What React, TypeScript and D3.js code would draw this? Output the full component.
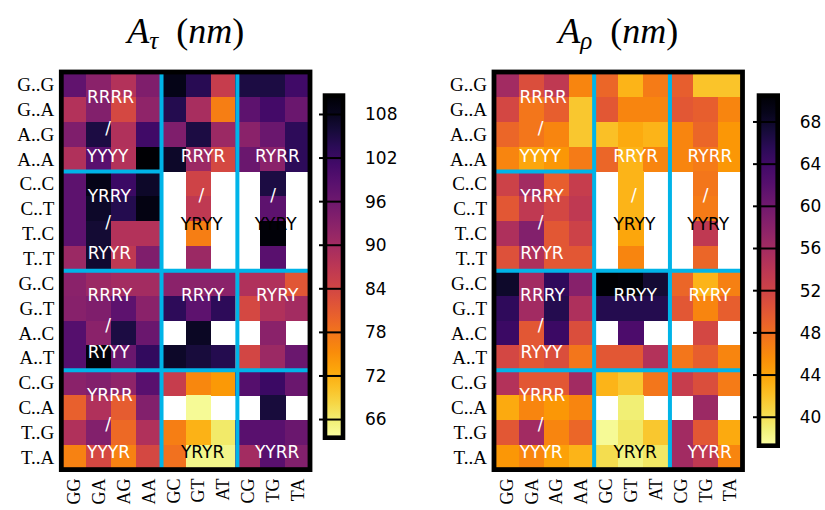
import * as d3 from "d3";

const rowLabels = ["G..G", "G..A", "A..G", "A..A", "C..C", "C..T", "T..C", "T..T",
  "G..C", "G..T", "A..C", "A..T", "C..G", "C..A", "T..G", "T..A"];
const colLabels = ["GG", "GA", "AG", "AA", "GC", "GT", "AT", "CG", "TG", "TA"];

const N = null;

// A_tau (nm), rows x columns, null = no value (white)
const tauValues: (number | null)[][] = [
  [97.6, 92.8, 88.0, 94.2, 108.6, 103.8, 85.6, 105.2, 105.2, 101.4],
  [88.0, 93.7, 83.6, 92.3, 104.3, 89.4, 76.9, 98.0, 100.9, 96.6],
  [94.2, 105.2, 88.4, 101.4, 94.2, 105.2, 90.8, 92.8, 96.6, 103.3],
  [88.4, 98.5, 88.0, 110.5, 107.2, 90.8, 83.6, 96.6, 92.8, 103.3],
  [98.0, 108.6, 101.9, 107.2, N, 84.6, N, N, 105.2, N],
  [98.0, 107.2, 104.3, 109.1, N, 86.5, N, N, 98.0, N],
  [98.0, 106.2, 88.0, 88.0, N, 76.9, N, N, 110.0, N],
  [90.8, 106.7, 86.5, 94.2, N, 90.8, N, N, 98.5, N],
  [92.8, 90.8, 89.9, 89.9, 92.8, 92.8, 92.8, 88.4, 88.4, 81.7],
  [93.2, 94.2, 98.0, 92.8, 103.3, 98.0, 103.3, 83.6, 88.4, 89.9],
  [99.0, 92.8, 105.2, 96.6, N, 107.6, N, N, 92.8, N],
  [99.0, 109.6, 96.6, 102.8, 107.2, 105.7, 104.3, 84.1, 90.8, 96.6],
  [92.8, 93.7, 92.3, 98.5, 85.6, 76.0, 74.0, 99.0, 101.9, 96.6],
  [80.3, 88.4, 80.8, 93.7, N, 64.4, N, N, 105.7, N],
  [88.4, 93.7, 79.3, 88.4, 76.9, 71.6, 66.4, 98.5, 98.5, 96.6],
  [76.4, 83.6, 76.4, 83.6, 78.4, 64.9, 64.9, 89.9, 98.5, 93.7],
];

// A_rho (nm)
const rhoValues: (number | null)[][] = [
  [56.0, 50.9, 53.6, 46.2, 48.6, 42.9, 46.9, 49.3, 41.9, 41.9],
  [51.6, 47.3, 49.3, 41.6, 49.9, 46.2, 46.2, 49.9, 49.3, 46.2],
  [48.6, 47.3, 46.2, 41.6, 42.2, 43.6, 42.9, 46.2, 48.6, 44.9],
  [46.2, 43.9, 44.9, 46.9, 48.6, 42.9, 46.2, 46.2, 46.9, 44.9],
  [52.3, 56.0, 49.3, 52.9, N, 42.9, N, N, 47.3, N],
  [49.9, 53.6, 51.6, 53.6, N, 42.9, N, N, 46.9, N],
  [55.0, 58.6, 49.9, 52.3, N, 43.9, N, N, 53.6, N],
  [50.6, 55.0, 49.9, 49.9, N, 46.2, N, N, 48.6, N],
  [68.0, 56.0, 65.3, 58.3, 70.7, 70.0, 67.4, 48.6, 42.9, 46.6],
  [65.3, 56.0, 66.0, 55.0, 66.0, 66.0, 66.0, 49.9, 46.2, 49.3],
  [64.3, 49.9, 64.3, 50.9, N, 63.0, N, N, 51.6, N],
  [51.6, 49.9, 50.9, 47.3, 49.9, 49.9, 54.6, 47.3, 49.3, 46.2],
  [54.6, 49.9, 49.9, 56.0, 42.9, 41.6, 47.3, 52.9, 50.9, 46.9],
  [43.6, 46.2, 44.9, 46.2, N, 38.9, N, N, 56.6, N],
  [49.9, 56.0, 46.2, 48.6, 37.9, 39.5, 41.6, 56.0, 49.9, 43.6],
  [44.9, 46.2, 44.2, 42.9, 40.2, 38.5, 39.5, 56.0, 53.6, 46.2],
];

const tauTicks = [66, 72, 78, 84, 90, 96, 102, 108];
const rhoTicks = [40, 44, 48, 52, 56, 60, 64, 68];
const tauRange: [number, number] = [63.5, 110.6];
const rhoRange: [number, number] = [37.3, 70.5];

// text, column position, row position, colour (grid units)
const blockLabels: [string, number, number, string][] = [
  ["RRRR", 1.98, 0.99, "white"],
  ["/", 1.88, 2.23, "white"],
  ["YYYY", 1.86, 3.36, "white"],
  ["RRYR", 5.7, 3.36, "white"],
  ["RYRR", 8.69, 3.36, "white"],
  ["YRRY", 1.93, 4.98, "white"],
  ["/", 1.88, 6.04, "white"],
  ["RYYR", 1.93, 7.26, "white"],
  ["/", 5.63, 4.95, "white"],
  ["YRYY", 5.65, 6.12, "black"],
  ["/", 8.52, 4.95, "white"],
  ["YYRY", 8.62, 6.12, "black"],
  ["RRRY", 1.95, 8.97, "white"],
  ["/", 1.88, 10.18, "white"],
  ["RYYY", 1.91, 11.27, "white"],
  ["RRYY", 5.68, 8.97, "white"],
  ["RYRY", 8.68, 8.97, "white"],
  ["YRRR", 1.95, 12.98, "white"],
  ["/", 1.88, 14.14, "white"],
  ["YYYR", 1.9, 15.3, "white"],
  ["YRYR", 5.68, 15.3, "black"],
  ["YYRR", 8.68, 15.3, "white"],
];

const vLines = [4.03, 7.08];
const CYAN = "#00b4e8";
const SERIF = "'Liberation Serif', 'DejaVu Serif', serif";
const SANS = "'DejaVu Sans', sans-serif";

type PanelProps = {
  id: string;
  values: (number | null)[][];
  sub: string;
  ax: { x: number; y: number; w: number; h: number };
  cb: { x: number; y: number; w: number; h: number };
  range: [number, number];
  ticks: number[];
};

function Panel({ id, values, sub, ax, cb, range, ticks }: PanelProps) {
  const xs = d3.scaleLinear().domain([0, colLabels.length]).range([ax.x, ax.x + ax.w]);
  const ys = d3.scaleLinear().domain([0, rowLabels.length]).range([ax.y, ax.y + ax.h]);
  const norm = d3.scaleLinear().domain(range).range([1, 0]).clamp(true);
  const color = (v: number) => d3.interpolateInferno(norm(v));
  const cbY = d3.scaleLinear().domain(range).range([cb.y + cb.h, cb.y]);
  const stops = d3.range(0, 1.0001, 0.05);
  const cw = xs(1) - xs(0);
  const ch = ys(1) - ys(0);

  return (
    <g>
      <defs>
        <linearGradient id={`grad-${id}`} x1="0" y1="1" x2="0" y2="0">
          {stops.map((s) => (
            <stop key={s} offset={s} stopColor={color(range[0] + s * (range[1] - range[0]))} />
          ))}
        </linearGradient>
      </defs>

      {/* title */}
      <text x={ax.x + ax.w / 2} y={43} textAnchor="middle" fontFamily={SERIF} fontSize={36}>
        <tspan fontStyle="italic">A</tspan>
        <tspan fontStyle="italic" fontSize={25} dy={6}>{sub}</tspan>
        <tspan dy={-6}>{"\u2002("}</tspan>
        <tspan fontStyle="italic">nm</tspan>
        <tspan>)</tspan>
      </text>

      {/* cells */}
      <g shapeRendering="crispEdges">
        {values.map((row, r) =>
          row.map((v, c) =>
            v == null ? null : (
              <rect key={`${r}-${c}`} x={xs(c)} y={ys(r)} width={cw + 0.6} height={ch + 0.6} fill={color(v)} />
            )
          )
        )}
      </g>

      {/* group separators */}
      <line x1={xs(0)} x2={xs(vLines[0])} y1={ys(4)} y2={ys(4)} stroke={CYAN} strokeWidth={4} />
      {[8, 12].map((r) => (
        <line key={r} x1={xs(0)} x2={xs(10)} y1={ys(r)} y2={ys(r)} stroke={CYAN} strokeWidth={4} />
      ))}
      {vLines.map((c) => (
        <line key={c} x1={xs(c)} x2={xs(c)} y1={ys(0)} y2={ys(16)} stroke={CYAN} strokeWidth={4} />
      ))}

      {/* labels inside */}
      {blockLabels.map(([t, c, r, col], i) => (
        <text key={i} x={xs(c)} y={ys(r) + 6.2} textAnchor="middle" fontFamily={SANS} fontSize={17} fill={col}>
          {t}
        </text>
      ))}

      <rect x={ax.x} y={ax.y} width={ax.w} height={ax.h} fill="none" stroke="black" strokeWidth={4.8} />

      {/* row / column labels */}
      {rowLabels.map((l, r) => (
        <text key={l} x={ax.x - 7} y={ys(r + 0.5)} dy="0.35em" textAnchor="end" fontFamily={SERIF} fontSize={19}>
          {l}
        </text>
      ))}
      {colLabels.map((l, c) => (
        <text key={l} transform={`translate(${xs(c + 0.5)},${ax.y + ax.h + 9})rotate(-90)`} dy="0.35em"
          textAnchor="end" fontFamily={SERIF} fontSize={18}>
          {l}
        </text>
      ))}

      {/* colorbar */}
      <rect x={cb.x} y={cb.y} width={cb.w} height={cb.h} fill={`url(#grad-${id})`} />
      {ticks.map((t) => (
        <g key={t}>
          <line x1={cb.x - 6} x2={cb.x + cb.w} y1={cbY(t)} y2={cbY(t)} stroke="black" strokeWidth={2} />
          <text x={cb.x + cb.w + 22} y={cbY(t)} dy="0.35em" fontFamily={SANS} fontSize={17}>
            {t}
          </text>
        </g>
      ))}
      <rect x={cb.x} y={cb.y} width={cb.w} height={cb.h} fill="none" stroke="black" strokeWidth={4.6} />
    </g>
  );
}

export default function App() {
  return (
    <div style={{ position: "absolute", left: 0, top: 0 }}>
      <svg width={825} height={510} style={{ display: "block", background: "white" }}>
        <Panel id="tau" values={tauValues} sub="τ" ax={{ x: 61.3, y: 72, w: 248.7, h: 397.6 }}
          cb={{ x: 325, y: 95.6, w: 18, h: 342.1 }} range={tauRange} ticks={tauTicks} />
        <Panel id="rho" values={rhoValues} sub="ρ" ax={{ x: 494, y: 72, w: 248.5, h: 397.6 }}
          cb={{ x: 759, y: 95.6, w: 18.7, h: 350.1 }} range={rhoRange} ticks={rhoTicks} />
      </svg>
    </div>
  );
}
